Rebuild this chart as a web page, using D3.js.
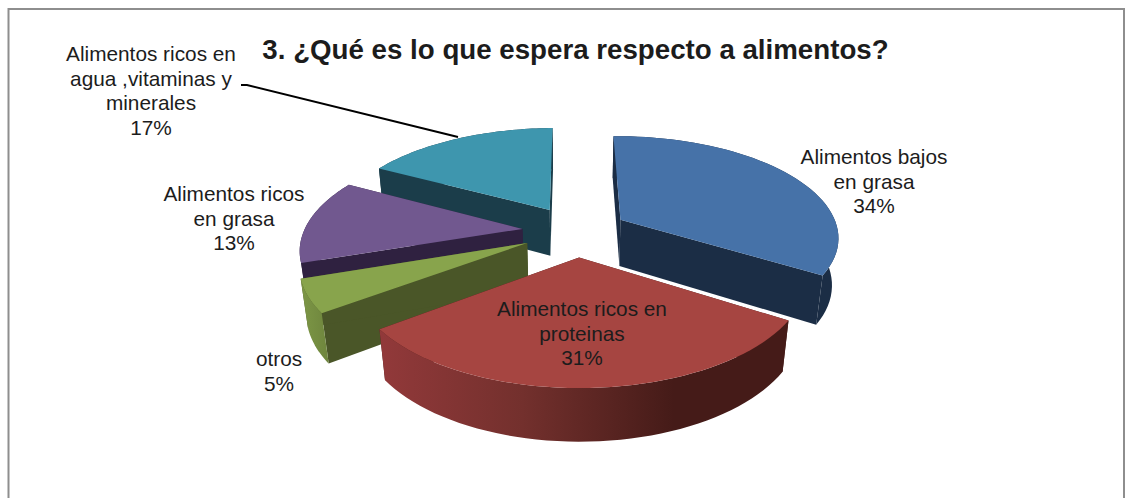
<!DOCTYPE html>
<html>
<head>
<meta charset="utf-8">
<style>
  html, body { margin: 0; padding: 0; background: #fff; }
  svg { display: block; }
  text { font-family: "Liberation Sans", Arial, sans-serif; fill: #1c1c1c; }
</style>
<script src="https://cdn.jsdelivr.net/npm/d3@7"></script>
</head>
<body>
<script>
const chartTitle = "3. ¿Qué es lo que espera respecto a alimentos?";
const categories = [
  "Alimentos bajos en grasa",
  "Alimentos ricos en proteinas",
  "otros",
  "Alimentos ricos en grasa",
  "Alimentos ricos en agua ,vitaminas y minerales"
];
const shares = [34, 31, 5, 13, 17];

// Wrapped label lines and their centres, one entry per category.
const labelLines = [
  ["Alimentos bajos", "en grasa", "34%"],
  ["Alimentos ricos en", "proteinas", "31%"],
  ["otros", "5%"],
  ["Alimentos ricos", "en grasa", "13%"],
  ["Alimentos ricos en", "agua ,vitaminas y", "minerales", "17%"]
];
const labelX = [874, 582, 279, 234, 151];
const labelFirstBaseline = [164, 316, 366, 201, 61];

const topColors = ["#4672A8", "#A64541", "#88A44C", "#71588F", "#3E96AE"];
const sideColors = ["#1B2D45", "#451B18", "#4A5628", "#2F2140", "#1B3D4A"];
const wallStops = [
  [["0", "#1B2D45"], ["1", "#1B2D45"]],
  [["0", "#92393A"], ["0.35", "#73302D"], ["0.72", "#451B18"], ["1", "#451B18"]],
  [["0", "#7D9746"], ["1", "#6E853D"]],
  [["0", "#2F2140"], ["1", "#2F2140"]],
  [["0", "#1B3D4A"], ["1", "#1B3D4A"]]
];
// How far each slice is pulled out of the pie, and its radius, both relative to the full radius.
const explodes = [0.23, 0.25, 0.25, 0.25, 0.25];
const radii = [0.985, 0.975, 1, 1, 1];
// Slices are painted back to front.
const paintOrder = [4, 0, 3, 2, 1];

const width = 1133, height = 498;
const deg = Math.PI / 180;

// Camera used for the tilted pie: radius and height in screen pixels, viewing distance in radii,
// plus a slight skew because the view is turned a little off axis.
const view = { cx: 577, cy: 231, rx: 220, ry: 102, drop: 48, dist: 6, dropDepth: 0.15, skewX: -5, skewY: -3 };
const startAngle = 1 * deg;

function project(X, Y, Z) {
  const s = view.dist / (view.dist + Y + Z * view.dropDepth);
  return [
    view.cx + (X * view.rx + Y * view.skewX) * s,
    view.cy + (Z * view.drop - Y * view.ry + X * view.skewY) * s
  ];
}

const pie = d3.pie().sort(null).startAngle(startAngle).endAngle(startAngle + 2 * Math.PI);
const arcs = pie(shares);
const line = d3.line();

const svg = d3.select("body").append("svg").attr("width", width).attr("height", height);
const defs = svg.append("defs");

// Chart frame, open at the bottom edge of the page.
svg.append("path")
  .attr("d", line([[8.5, height], [8.5, 9], [1124, 9], [1124, height]]))
  .attr("fill", "none").attr("stroke", "#8e8e8e").attr("stroke-width", 2);

function slicePoint(a, m, r, Z, e) {
  const X = e * Math.sin(m) + r * Math.sin(a);
  const Y = e * Math.cos(m) + r * Math.cos(a);
  return project(X, Y, Z);
}

paintOrder.forEach(i => {
  const d = arcs[i];
  const e = explodes[i];
  const r = radii[i];
  const m = (d.startAngle + d.endAngle) / 2;
  const steps = d3.range(0, 49).map(k => d.startAngle + (d.endAngle - d.startAngle) * k / 48);
  const topArc = steps.map(a => slicePoint(a, m, r, 0, e));
  const lowArc = steps.map(a => slicePoint(a, m, r, 1, e));
  const apexTop = slicePoint(0, m, 0, 0, e);
  const apexLow = slicePoint(0, m, 0, 1, e);
  const g = svg.append("g").attr("class", "slice");

  // Straight cut faces.
  [0, 48].forEach(k => {
    g.append("path")
      .attr("d", line([apexTop, topArc[k], lowArc[k], apexLow]) + "Z")
      .attr("fill", sideColors[i]);
  });

  // Curved outer wall with a horizontal shading gradient.
  const xs = topArc.concat(lowArc).map(p => p[0]);
  const grad = defs.append("linearGradient")
    .attr("id", "wall" + i).attr("gradientUnits", "userSpaceOnUse")
    .attr("x1", d3.min(xs)).attr("x2", d3.max(xs)).attr("y1", 0).attr("y2", 0);
  wallStops[i].forEach(s => grad.append("stop").attr("offset", s[0]).attr("stop-color", s[1]));
  g.append("path")
    .attr("d", line(topArc.concat(lowArc.slice().reverse())) + "Z")
    .attr("fill", `url(#wall${i})`);

  // Top face.
  g.append("path")
    .attr("d", line([apexTop].concat(topArc)) + "Z")
    .attr("fill", topColors[i]);
});

// Leader line for the outermost label.
svg.append("path")
  .attr("d", line([[241, 85], [247, 85], [458, 137]]))
  .attr("fill", "none").attr("stroke", "#000").attr("stroke-width", 2);

svg.append("text")
  .attr("x", 575.5).attr("y", 59)
  .attr("text-anchor", "middle")
  .attr("font-size", 27.7).attr("font-weight", "bold")
  .text(chartTitle);

categories.forEach((c, i) => {
  const t = svg.append("text")
    .attr("class", "label")
    .attr("text-anchor", "middle")
    .attr("font-size", 20.8);
  labelLines[i].forEach((s, j) => {
    t.append("tspan")
      .attr("x", labelX[i])
      .attr("y", labelFirstBaseline[i] + j * 24.5)
      .text(s);
  });
});
</script>
</body>
</html>
